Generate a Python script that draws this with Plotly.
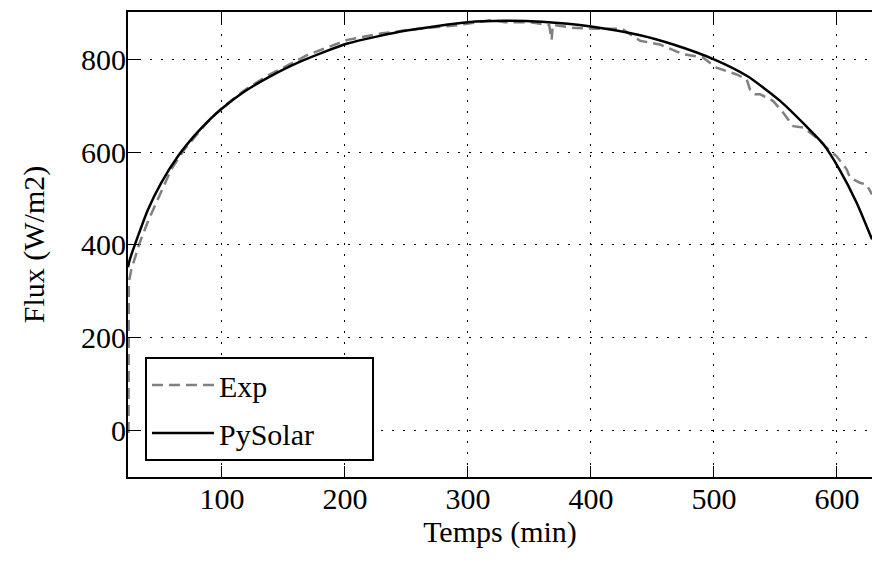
import plotly.graph_objects as go

# PySolar model curve (time in min, flux in W/m2)
pysolar_t = [23.6, 25, 31.7, 39.8, 50.6, 64.2, 77.8, 90, 100, 118, 137, 164.5, 202, 250, 300,
             330, 360, 400, 440, 467, 500, 527, 554, 575, 589, 602, 616, 628.5]
pysolar_flux = [352, 368, 419, 476, 534, 591, 636, 670, 694, 730, 760, 796, 834, 862, 880,
                883, 881, 871, 852, 832, 800, 764, 710, 656, 617, 563, 491, 412]

# Experimental measurements
exp_t = [24, 24.3, 26.3, 33, 40, 48, 58.8, 70, 88.6, 100, 118, 137, 150, 170, 202, 230,
         260, 290, 310, 320, 330, 350, 366, 368, 369, 385, 405, 425, 440, 456, 475, 491,
         502, 518, 526.6, 529.3, 533.3, 537.4, 548.2, 556.3, 564.5, 572.6, 583.5, 590.2,
         599.7, 607.9, 610.6, 618.7, 624, 628.5]
exp_flux = [-5, 320, 347, 404, 452, 498, 563, 608, 666, 695, 733, 765, 782, 810, 842, 856,
            866, 873, 882, 885, 880, 880, 874, 842, 874, 868, 866, 866, 840, 832, 811, 804,
            782, 768, 757, 735, 725, 725, 710, 685, 656, 653, 631, 613, 591, 563, 545, 534,
            530, 509]

x_ticks = [100, 200, 300, 400, 500, 600]
y_ticks = [0, 200, 400, 600, 800]

FONT = "Liberation Serif"
PAD = "\u00a0" * 7

fig = go.Figure()
fig.add_trace(go.Scatter(
    x=exp_t, y=exp_flux, mode="lines", name="Exp", legendgroup="a",
    line=dict(color="#808080", width=2.5, dash="11px,6px"),
))
fig.add_trace(go.Scatter(
    x=pysolar_t, y=pysolar_flux, mode="lines", name="PySolar" + PAD, legendgroup="b",
    line=dict(color="black", width=2.5, shape="spline", smoothing=0.6),
))

axis_common = dict(
    showgrid=True, gridcolor="black", gridwidth=1, griddash="2px,9px",
    showline=True, linecolor="black", linewidth=2,
    ticks="inside", ticklen=11, tickwidth=1.2, tickcolor="black",
    zeroline=False, automargin=False,
    tickfont=dict(family=FONT, size=30, color="black"),
)

fig.update_layout(
    width=872, height=562,
    margin=dict(l=128, r=0, t=12, b=85),
    paper_bgcolor="white", plot_bgcolor="white",
    font=dict(family=FONT, size=30, color="black"),
    xaxis=dict(
        range=[23.6, 628.5], tickvals=x_ticks, mirror="ticks",
        title=dict(text="Temps (min)", font=dict(family=FONT, size=30), standoff=5),
        ticklabelstandoff=-6,
        **axis_common,
    ),
    yaxis=dict(
        range=[-100, 902], tickvals=y_ticks, mirror=False,
        title=dict(text="Flux (W/m2)", font=dict(family=FONT, size=30), standoff=28),
        ticklabelstandoff=-6,
        **axis_common,
    ),
    legend=dict(
        x=0.0228, y=0.258, xanchor="left", yanchor="top",
        bgcolor="white", bordercolor="black", borderwidth=2,
        font=dict(family=FONT, size=30, color="black"),
        tracegroupgap=6, itemwidth=62,
    ),
    showlegend=True,
)

fig.write_html("out.html", post_script="document.body.style.margin='0px';",
               config={"displayModeBar": False})
